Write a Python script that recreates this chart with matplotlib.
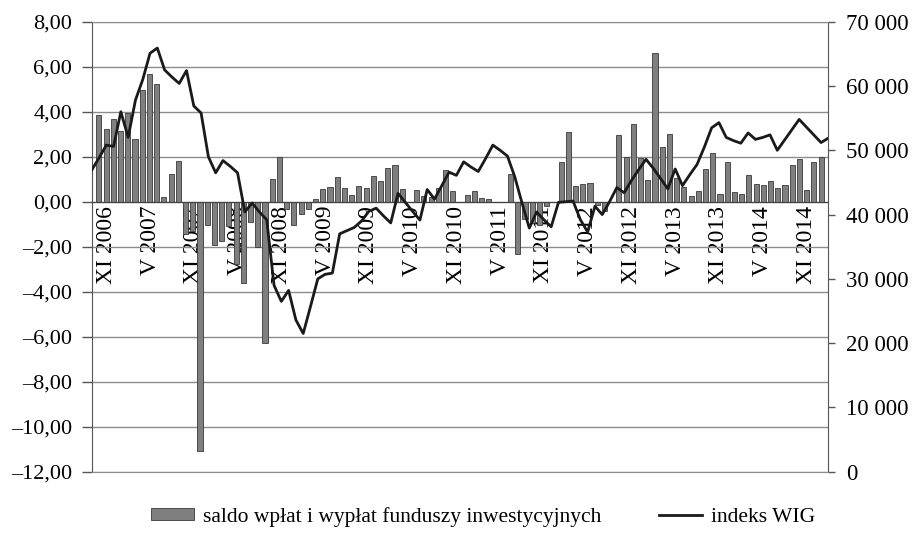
import numpy as np
import matplotlib.pyplot as plt
from matplotlib.ticker import FuncFormatter

plt.rcParams['font.family'] = ['Liberation Serif', 'DejaVu Serif']

# saldo wpłat i wypłat (mld zł), miesięcznie
saldo = [3.85, 3.22, 3.66, 3.15, 3.95, 2.78, 4.96, 5.69, 5.21, 0.22,
         1.25, 1.79, -1.44, -1.3, -11.1, -1.03, -1.91, -1.76, -1.07, -2.76,
         -3.62, -0.9, -2.03, -6.3, 1.02, 1.99, -0.32, -1.05, -0.55, -0.31,
         0.12, 0.57, 0.65, 1.08, 0.60, 0.28, 0.71, 0.63, 1.16, 0.90,
         1.49, 1.63, 0.56, 0.0, 0.50, 0.27, 0.19, 0.60, 1.39, 0.49,
         0.0, 0.28, 0.47, 0.16, 0.11, 0.0, 0.0, 1.25, -2.32, -0.75,
         -0.96, -1.04, -0.17, 0.0, 1.78, 3.11, 0.71, 0.80, 0.84, -0.15,
         -0.43, 0.0, 2.97, 2.0, 3.44, 1.93, 0.97, 6.63, 2.45, 2.99,
         1.04, 0.64, 0.27, 0.49, 1.45, 2.18, 0.33, 1.78, 0.41, 0.33,
         1.18, 0.80, 0.73, 0.92, 0.62, 0.73, 1.61, 1.88, 0.53, 1.78,
         1.97]

# indeks WIG
wig = [46900, 48800, 50800, 50600, 56000, 52000, 57800, 61000, 65100, 65900,
       62500, 61400, 60400, 62400, 56900, 55800, 49000, 46500, 48400, 47500,
       46500, 40400, 41800, 40400, 39200, 29000, 26500, 28200, 23600, 21500,
       25700, 30000, 30700, 30900, 37000, 37500, 38000, 39000, 40500, 41000,
       39800, 38700, 43300, 41900, 40500, 39150, 43900, 42400, 44500, 46600,
       46100, 48200, 47400, 46700, 48700, 50800, 50000, 49100, 45900, 41800,
       37900, 40400, 39200, 38100, 41900, 42000, 42100, 39200, 37300, 41300,
       40000, 42000, 44200, 43400, 45300, 47000, 48600, 47200, 45600, 44000,
       47100, 44500, 46200, 47800, 50500, 53500, 54300, 52000, 51500, 51100,
       52700, 51700, 52000, 52400, 50000, 51600, 53200, 54800, 53600, 52400,
       51200, 51900]

labels = ['XI 2006', 'V 2007', 'XI 2007', 'V 2008', 'XI 2008', 'V 2009',
          'XI 2009', 'V 2010', 'XI 2010', 'V 2011', 'XI 2011', 'V 2012',
          'XI 2012', 'V 2013', 'XI 2013', 'V 2014', 'XI 2014']

fig = plt.figure(figsize=(9.15, 5.35), dpi=100)
ax = fig.add_axes([0.1002, 0.1183, 0.8051, 0.8411])

# oś kategorii przecina oś Y w zerze
ax.spines['bottom'].set_position(('data', 0))
ax.spines['bottom'].set_color('#404040')
ax.spines['left'].set_color('#555555')
ax.spines['top'].set_visible(False)
ax.spines['right'].set_visible(False)

x = np.arange(len(saldo))
bars = ax.bar(x, saldo, width=0.7, color='#7f7f7f', edgecolor='#3a3a3a',
              linewidth=0.6, zorder=2)
ax.set_xlim(-1, len(saldo))
ax.set_ylim(-12, 8)
ax.set_yticks(np.arange(-12, 9, 2))
ax.yaxis.set_major_formatter(FuncFormatter(
    lambda v, p: f'{v:.2f}'.replace('.', ',').replace('-', '\u2013')))
ax.grid(axis='y', color='#8c8c8c', linewidth=1.0)
ax.set_axisbelow(True)

# pozycje linii (oś pomocnicza) i etykiety co 6 miesięcy
xl = -1 + np.arange(len(wig)) * (len(saldo) + 1) / (len(wig) - 1)
ax.set_xticks(xl[2::6])
ax.set_xticklabels(labels)
ax.tick_params(axis='x', length=0, pad=3, labelrotation=90, labelsize=17)
ax.tick_params(axis='y', direction='out', length=7, width=1, color='#555555',
               pad=7, labelsize=16)

ax2 = ax.twinx()
line, = ax2.plot(xl, wig, color='#1a1a1a', linewidth=2.0)
ax2.set_ylim(0, 70000)
ax2.set_yticks(np.arange(0, 70001, 10000))
ax2.yaxis.set_major_formatter(FuncFormatter(
    lambda v, p: f'{int(v):,}'.replace(',', ' ')))
ax2.tick_params(axis='y', direction='out', length=5, width=1, color='#555555',
                pad=8, labelsize=16.5)
ax2.spines['left'].set_visible(False)
ax2.spines['right'].set_color('#555555')
ax2.spines['top'].set_color('#8c8c8c')
ax2.spines['bottom'].set_color('#8c8c8c')

fig.legend([bars, line],
           ['saldo wpłat i wypłat funduszy inwestycyjnych', 'indeks WIG'],
           loc='center', bbox_to_anchor=(0.528, 0.034), ncol=2, frameon=False,
           fontsize=15.5, handlelength=2.0, handleheight=0.5,
           columnspacing=2.7, handletextpad=0.4)

fig.savefig('out.png', dpi=100)
